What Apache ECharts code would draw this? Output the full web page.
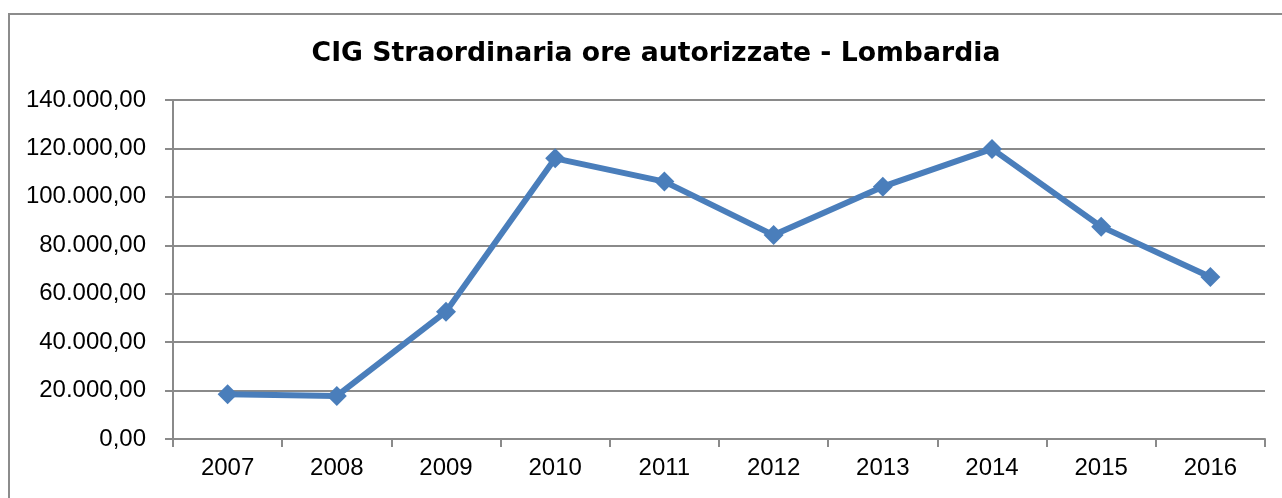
<!DOCTYPE html>
<html>
<head>
<meta charset="utf-8">
<script src="https://cdn.jsdelivr.net/npm/echarts@6/dist/echarts.min.js"></script>
<style>
  html, body { margin: 0; padding: 0; background: #fff; }
  #chart { width: 1282px; height: 498px; }
</style>
</head>
<body>
<div id="chart"></div>
<script>
// Ore autorizzate di Cassa Integrazione Straordinaria in Lombardia, per anno
const years = ['2007', '2008', '2009', '2010', '2011', '2012', '2013', '2014', '2015', '2016'];
const oreAutorizzate = [18500, 17800, 52600, 115900, 106300, 84200, 104200, 119800, 87700, 66900];
const titolo = 'CIG Straordinaria ore autorizzate - Lombardia';

// Formato numerico italiano: separatore migliaia "." e due decimali con ","
function formatIt(v) {
  const parts = v.toFixed(2).split('.');
  const intPart = parts[0].replace(/\B(?=(\d{3})+(?!\d))/g, '.');
  return intPart + ',' + parts[1];
}

const chart = echarts.init(document.getElementById('chart'), null, { renderer: 'canvas' });
const gridGray = '#8a8a8a';
const labelFont = { fontFamily: 'Liberation Sans', fontSize: 24, color: '#000' };

chart.setOption({
  animation: false,
  backgroundColor: '#fff',
  graphic: [{
    type: 'rect',
    shape: { x: 9, y: 14, width: 1400, height: 600 },
    style: { fill: 'none', stroke: '#8c8c8c', lineWidth: 2 },
    silent: true
  }],
  title: {
    text: titolo,
    left: 651,
    textAlign: 'center',
    top: 36,
    textStyle: { fontFamily: 'DejaVu Sans', fontWeight: 'bold', fontSize: 26.7, color: '#000' }
  },
  grid: { left: 173, right: 17, top: 100, bottom: 59, containLabel: false },
  xAxis: {
    type: 'category',
    data: years,
    boundaryGap: true,
    axisLine: { show: true, lineStyle: { color: gridGray, width: 2 } },
    axisTick: { show: true, length: 8, interval: 0, lineStyle: { color: gridGray, width: 2 } },
    axisLabel: Object.assign({ margin: 17, interval: 0 }, labelFont),
    splitLine: { show: false }
  },
  yAxis: {
    type: 'value',
    min: 0,
    max: 140000,
    interval: 20000,
    axisLine: { show: true, lineStyle: { color: gridGray, width: 2 } },
    axisTick: { show: true, length: 8, lineStyle: { color: gridGray, width: 2 } },
    axisLabel: Object.assign({ margin: 27, formatter: formatIt }, labelFont),
    splitLine: { show: true, lineStyle: { color: gridGray, width: 2 } }
  },
  series: [{
    type: 'line',
    data: oreAutorizzate,
    symbol: 'diamond',
    symbolSize: 20,
    showAllSymbol: true,
    lineStyle: { color: '#4a7ebb', width: 6 },
    itemStyle: { color: '#4a7ebb' },
    z: 5
  }]
});
</script>
</body>
</html>
